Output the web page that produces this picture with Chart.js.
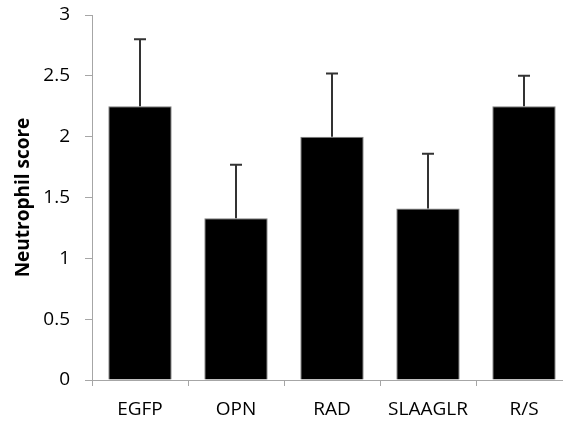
<!DOCTYPE html>
<html>
<head>
<meta charset="utf-8">
<script src="https://cdn.jsdelivr.net/npm/chart.js@4/dist/chart.umd.min.js"></script>
<style>
  html, body { margin: 0; padding: 0; overflow: hidden; background: #fff; }
  #wrap { position: absolute; left: 0; top: 0; width: 576px; height: 421px; }
</style>
</head>
<body>
<div id="wrap"><canvas id="chart"></canvas></div>
<script>
// Neutrophil score per construct, error bars drawn upward only
const categories = ["EGFP", "OPN", "RAD", "SLAAGLR", "R/S"];
const scores = [2.25, 1.33, 2.0, 1.41, 2.25];
const errors = [0.55, 0.44, 0.52, 0.45, 0.25];
const yTicks = [0, 0.5, 1, 1.5, 2, 2.5, 3];

const axisGray = "#a6a6a6";
const font = { family: "'Open Sans', sans-serif", size: 19 };

const errorBars = {
    id: "errorBars",
    afterDatasetsDraw(chart) {
        const ctx = chart.ctx;
        const y = chart.scales.y;
        const meta = chart.getDatasetMeta(0);
        ctx.save();
        ctx.strokeStyle = "#333333";
        ctx.lineWidth = 2;
        meta.data.forEach((bar, i) => {
            const top = y.getPixelForValue(scores[i] + errors[i]);
            ctx.beginPath();
            ctx.moveTo(bar.x, bar.y);
            ctx.lineTo(bar.x, top);
            ctx.moveTo(bar.x - 6, top);
            ctx.lineTo(bar.x + 6, top);
            ctx.stroke();
        });
        ctx.restore();
    }
};

new Chart(document.getElementById("chart"), {
    type: "bar",
    data: {
        labels: categories,
        datasets: [{
            data: scores,
            backgroundColor: "#000000",
            borderColor: "#7f7f7f",
            borderWidth: 1,
            categoryPercentage: 0.66,
            barPercentage: 1.0
        }]
    },
    options: {
        responsive: true,
        maintainAspectRatio: false,
        animation: false,
        layout: { padding: { top: 0, right: 4, left: 0, bottom: 0 } },
        plugins: { legend: { display: false }, tooltip: { enabled: false } },
        scales: {
            x: {
                grid: { display: true, drawOnChartArea: false, drawTicks: true, tickLength: 6, color: axisGray, offset: true },
                border: { color: axisGray, width: 1 },
                ticks: { color: "#000", font: font, padding: 12 },
                afterFit: (scale) => { scale.height = 41; scale.paddingLeft = 0; scale.paddingRight = 0; }
            },
            y: {
                min: 0,
                max: 3,
                afterBuildTicks: (axis) => { axis.ticks = yTicks.map(v => ({ value: v })); },
                grid: { display: true, drawOnChartArea: false, drawTicks: true, tickLength: 7, color: axisGray },
                border: { color: axisGray, width: 1 },
                ticks: { color: "#000", font: font, padding: 15, callback: (v) => String(v) },
                title: {
                    display: true,
                    text: "Neutrophil score",
                    color: "#000",
                    font: { family: "'Open Sans', sans-serif", size: 19, weight: "bold" },
                    padding: { top: 12, bottom: 0 }
                },
                afterFit: (scale) => { scale.width = 92; scale.paddingTop = 15; scale.paddingBottom = 0; }
            }
        }
    },
    plugins: [errorBars]
});
</script>
</body>
</html>
